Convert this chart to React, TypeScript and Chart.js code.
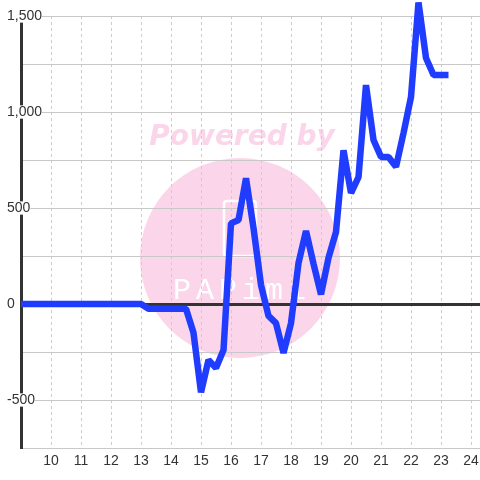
import React, { useEffect, useRef } from "react";
import { Chart, registerables } from "chart.js";

Chart.register(...registerables);

const hours = [
  9, 13, 13.25, 13.5, 13.75, 14, 14.25, 14.5, 14.75, 15, 15.25, 15.5, 15.75,
  16, 16.25, 16.5, 16.75, 17, 17.25, 17.5, 17.75, 18, 18.25, 18.5, 18.75,
  19, 19.25, 19.5, 19.75, 20, 20.25, 20.5, 20.75, 21, 21.25, 21.5, 21.75,
  22, 22.25, 22.5, 22.75, 23, 23.25,
];
const values = [
  0, 0, -25, -25, -25, -25, -25, -25, -150, -460, -292, -333, -240,
  420, 437, 655, 396, 99, -62, -100, -255, -100, 213, 380, 210,
  50, 240, 375, 800, 578, 661, 1140, 854, 766, 766, 714, 890,
  1078, 1570, 1281, 1193, 1193, 1193,
];
const xTickValues = [10, 11, 12, 13, 14, 15, 16, 17, 18, 19, 20, 21, 22, 23, 24];
const yTickValues = [-750, -500, -250, 0, 250, 500, 750, 1000, 1250, 1500];
const yLabelledValues = [-500, 0, 500, 1000, 1500];
const watermarkTitle = "Powered by";
const watermarkLogo = "PAPimi";

const PINK = "#fbd6eb";

const watermarkPlugin = {
  id: "watermark",
  beforeDraw(chart: any) {
    const { ctx } = chart;
    ctx.save();
    ctx.fillStyle = "#ffffff";
    ctx.fillRect(0, 0, chart.width, chart.height);
    ctx.fillStyle = PINK;
    ctx.font = "italic bold 28px 'DejaVu Sans'";
    ctx.textAlign = "center";
    ctx.textBaseline = "alphabetic";
    ctx.fillText(watermarkTitle, 242, 145);
    ctx.beginPath();
    ctx.arc(240, 258, 100, 0, Math.PI * 2);
    ctx.fill();
    ctx.strokeStyle = "#ffffff";
    ctx.lineWidth = 2.5;
    const x = 224, y = 201, w = 32, h = 55, r = 3;
    ctx.beginPath();
    ctx.moveTo(x + r, y);
    ctx.lineTo(x + w - r, y);
    ctx.quadraticCurveTo(x + w, y, x + w, y + r);
    ctx.lineTo(x + w, y + h - r);
    ctx.quadraticCurveTo(x + w, y + h, x + w - r, y + h);
    ctx.lineTo(x + r, y + h);
    ctx.quadraticCurveTo(x, y + h, x, y + h - r);
    ctx.lineTo(x, y + r);
    ctx.quadraticCurveTo(x, y, x + r, y);
    ctx.stroke();
    ctx.fillStyle = "#ffffff";
    ctx.font = "30px 'Liberation Mono'";
    try { (ctx as any).letterSpacing = "5px"; } catch (e) {}
    ctx.fillText(watermarkLogo, 242, 299);
    ctx.restore();
  },
};

export default function App() {
  const ref = useRef<HTMLCanvasElement | null>(null);
  useEffect(() => {
    document.body.style.margin = "0";
    const canvas = ref.current!;
    const chart = new Chart(canvas, {
      type: "line",
      data: {
        datasets: [
          {
            data: hours.map((h, i) => ({ x: h, y: values[i] })),
            borderColor: "#1f3cff",
            borderWidth: 6.5,
            borderJoinStyle: "bevel",
            pointRadius: 0,
            tension: 0,
            fill: false,
            clip: false as any,
          },
        ],
      },
      options: {
        animation: false,
        responsive: false,
        devicePixelRatio: 1,
        layout: { padding: { top: 16, left: 0, right: 0, bottom: 0 } },
        plugins: { legend: { display: false }, tooltip: { enabled: false } },
        scales: {
          x: {
            type: "linear",
            min: 9,
            max: 24.3,
            afterBuildTicks: (s: any) => {
              s.ticks = xTickValues.map((v) => ({ value: v }));
            },
            afterFit: (s: any) => {
              s.height = 32;
              s.paddingLeft = 0;
              s.paddingRight = 0;
            },
            grid: {
              color: "#cccccc",
              lineWidth: 1,
              drawTicks: false,
            },
            border: { display: false, dash: [3, 3] },
            ticks: {
              padding: 5,
              color: "#333333",
              font: { family: "'Liberation Sans', Arial, sans-serif", size: 14 },
              maxRotation: 0,
              callback: (v: any) => String(v),
            },
          },
          y: {
            type: "linear",
            min: -750,
            max: 1500,
            afterBuildTicks: (s: any) => {
              s.ticks = yTickValues.map((v) => ({ value: v }));
            },
            afterFit: (s: any) => {
              s.width = 21;
              s.paddingTop = 0;
              s.paddingBottom = 0;
            },
            grid: {
              color: (c: any) => (c.tick && c.tick.value === 0 ? "#333333" : "#c8c8c8"),
              lineWidth: (c: any) => (c.tick && c.tick.value === 0 ? 3 : 1),
              drawTicks: false,
            },
            border: { display: true, color: "#333333", width: 3 },
            ticks: {
              mirror: true,
              padding: -14,
              color: "#333333",
              font: { family: "'Liberation Sans', Arial, sans-serif", size: 14, lineHeight: 0.95 },
              showLabelBackdrop: true,
              backdropColor: "#ffffff",
              backdropPadding: 0,
              callback: (v: any) =>
                yLabelledValues.includes(Number(v)) ? Number(v).toLocaleString("en-US") : "",
            } as any,
          },
        },
      },
      plugins: [watermarkPlugin],
    });
    return () => chart.destroy();
  }, []);
  return (
    <div style={{ width: 480, height: 480 }}>
      <canvas ref={ref} width={480} height={480} style={{ width: 480, height: 480, display: "block" }} />
    </div>
  );
}
